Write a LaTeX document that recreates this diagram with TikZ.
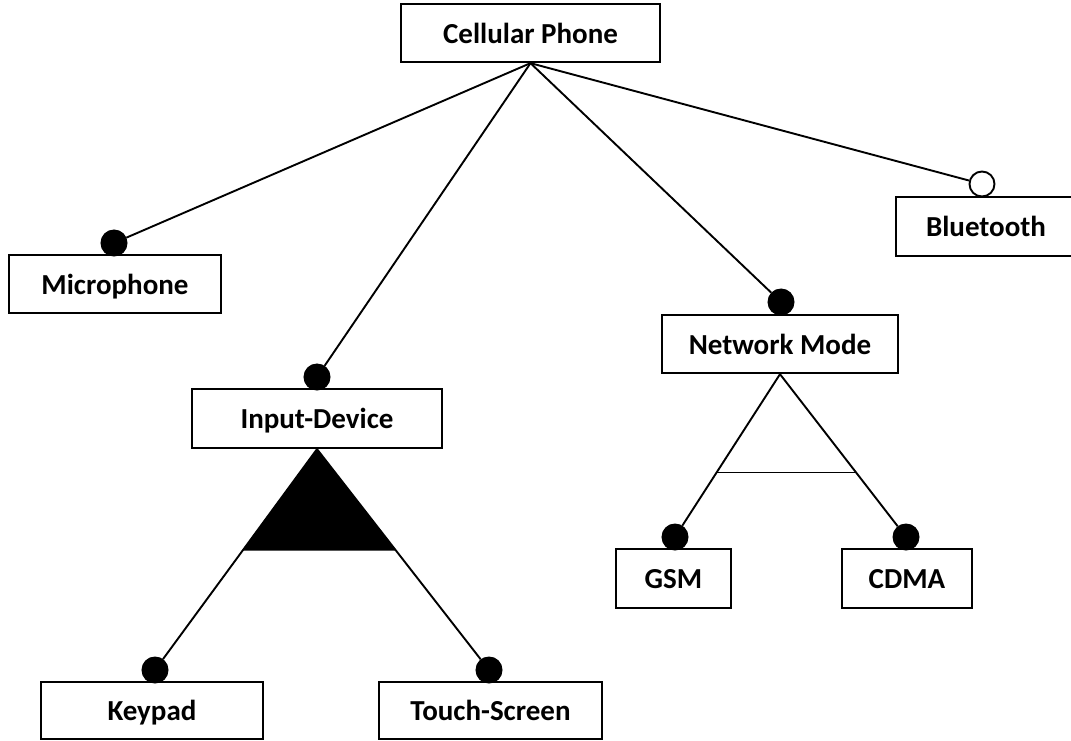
\documentclass[tikz,border=0pt]{standalone}
\usepackage{fontspec}
\setmainfont{Carlito}
\begin{document}
\begin{tikzpicture}[x=1pt,y=-1pt,
  feat/.style args={#1x#2}{draw, rectangle, line width=2.3pt, inner sep=0pt,
    minimum width=#1pt, minimum height=#2pt, text height=22pt, text depth=2pt,
    font=\fontsize{29}{34}\selectfont\bfseries},
  link/.style={line width=1.9pt},
  mandatory/.style={circle, fill=black, draw=black, line width=1pt,
    minimum size=26pt, inner sep=0pt},
  optional/.style={circle, fill=white, draw=black, line width=1.9pt,
    minimum size=25pt, inner sep=0pt}]
\useasboundingbox (0,0) rectangle (1071,740);
\clip (0,0) rectangle (1071,740);

% feature boxes
\node[feat=259x58] (root)  at (530.5,33)  {Cellular Phone};
\node[feat=212x58] (mic)   at (115,284)   {Microphone};
\node[feat=250x59] (input) at (317,418.5) {Input-Device};
\node[feat=236x58] (net)   at (780,344)   {Network Mode};
\node[feat=180x59] (bt)    at (986,226.5) {Bluetooth};
\node[feat=115x59] (gsm)   at (673.5,578.5) {GSM};
\node[feat=130x59] (cdma)  at (907,578.5) {CDMA};
\node[feat=222x57] (key)   at (152,710.5) {Keypad};
\node[feat=223x57] (touch) at (490.5,710.5) {Touch-Screen};

% mandatory / optional markers sitting on the child boxes
\node[mandatory] (micdot)   at (114,243)  {};
\node[mandatory] (inputdot) at (317,377)  {};
\node[mandatory] (netdot)   at (781,302)  {};
\node[optional]  (btdot)    at (982,184)  {};
\node[mandatory] (gsmdot)   at (675,537)  {};
\node[mandatory] (cdmadot)  at (906,537)  {};
\node[mandatory] (keydot)   at (155,670)  {};
\node[mandatory] (touchdot) at (489,670)  {};

% root decomposition
\draw[link] (root.south) -- (micdot);
\draw[link] (root.south) -- (inputdot);
\draw[link] (root.south) -- (netdot);
\draw[link] (root.south) -- (btdot);

% or-group (filled arc)
\path (input.south) -- (keydot.center) coordinate[pos=0.4595] (orl);
\path (input.south) -- (touchdot.center) coordinate[pos=0.4595] (orr);
\fill (input.south) -- (orl) -- (orr) -- cycle;
\draw[link] (input.south) -- (keydot);
\draw[link] (input.south) -- (touchdot);

% alternative group (open arc)
\path (net.south) -- (gsmdot.center) coordinate[pos=0.604] (altl);
\path (net.south) -- (cdmadot.center) coordinate[pos=0.604] (altr);
\draw[link] (net.south) -- (gsmdot);
\draw[link] (net.south) -- (cdmadot);
\draw[link] (altl) -- (altr);
\end{tikzpicture}
\end{document}
